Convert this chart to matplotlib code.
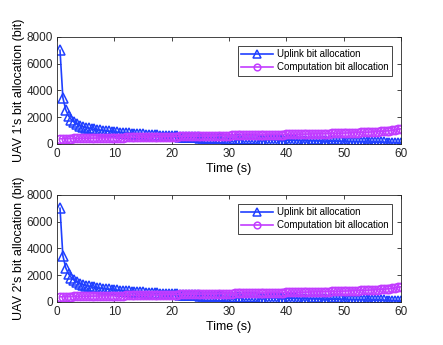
import matplotlib
matplotlib.use("Agg")
import matplotlib.pyplot as plt

plt.rcParams["font.family"] = ["Liberation Sans", "DejaVu Sans"]

# time slots (s)
time_s = [0.5 * k for k in range(1, 121)]

uplink_1 = [
    7000, 3450, 2550, 2080, 1800, 1610, 1470, 1370, 1290, 1220,
    1170, 1120, 1080, 1045, 1010, 985, 960, 935, 905, 880,
    860, 840, 820, 800, 783, 767, 751, 735, 721, 707,
    693, 680, 666, 652, 638, 625, 612, 600, 587, 575,
    564, 552, 541, 530, 520, 510, 500, 490, 481, 472,
    463, 455, 446, 437, 428, 420, 412, 405, 397, 390,
    383, 377, 370, 364, 357, 351, 344, 338, 331, 325,
    319, 314, 308, 303, 297, 292, 286, 281, 275, 270,
    265, 260, 255, 250, 245, 240, 235, 230, 225, 220,
    216, 211, 207, 202, 198, 193, 189, 184, 180, 175,
    171, 166, 162, 157, 153, 148, 144, 139, 135, 130,
    125, 120, 114, 108, 102, 95, 86, 75, 60, 40,
]
computation_1 = [
    380, 385, 390, 395, 400, 405, 410, 414, 418, 422,
    426, 430, 434, 438, 442, 446, 450, 454, 458, 462,
    466, 470, 474, 478, 482, 486, 490, 494, 498, 502,
    506, 510, 514, 518, 522, 526, 530, 534, 538, 542,
    546, 550, 554, 558, 562, 566, 570, 574, 578, 582,
    586, 590, 594, 598, 602, 606, 610, 614, 618, 622,
    626, 630, 634, 638, 642, 646, 650, 654, 658, 662,
    666, 670, 674, 678, 682, 686, 690, 694, 698, 702,
    706, 710, 714, 718, 722, 727, 732, 737, 742, 747,
    752, 757, 762, 768, 774, 780, 786, 792, 799, 806,
    813, 820, 828, 836, 844, 853, 862, 872, 882, 893,
    905, 918, 932, 948, 966, 987, 1012, 1043, 1082, 1130,
]
# UAV 2 looks practically the same as UAV 1
uplink_2 = list(uplink_1)
computation_2 = list(computation_1)

blue = "#2040ff"
purple = "#c23cff"

fig = plt.figure(figsize=(4.43, 3.45), dpi=100)
ax_top = fig.add_axes([0.129, 0.583, 0.776, 0.310])
ax_bot = fig.add_axes([0.129, 0.125, 0.776, 0.310])

for ax, up, comp, uav in [(ax_top, uplink_1, computation_1, 1),
                          (ax_bot, uplink_2, computation_2, 2)]:
    ax.plot(time_s, up, color=blue, marker="^", markersize=6.5, mfc="none",
            mew=1.1, lw=1.2, label="Uplink bit allocation")
    ax.plot(time_s, comp, color=purple, marker="o", markersize=6, mfc="none",
            mew=1.1, lw=1.2, label="Computation bit allocation")
    ax.set_xlim(0, 60)
    ax.set_ylim(0, 8000)
    ax.set_xticks([0, 10, 20, 30, 40, 50, 60])
    ax.set_yticks([0, 2000, 4000, 6000, 8000])
    ax.tick_params(direction="in", top=True, right=True, labelsize=8.5,
                   length=3, width=0.6, colors="#262626", pad=3)
    for sp in ax.spines.values():
        sp.set_color("#262626")
        sp.set_linewidth(0.6)
    ax.set_xlabel("Time (s)", fontsize=9, labelpad=2)
    ax.set_ylabel(f"UAV {uav}'s bit allocation (bit)", fontsize=9, labelpad=1)
    leg = ax.legend(loc="upper right", fontsize=7, fancybox=False,
                    edgecolor="#262626", framealpha=1, handlelength=3.3,
                    handletextpad=0.4, borderaxespad=0.9, borderpad=0.35,
                    labelspacing=0.35, markerscale=0.8)
    leg.get_frame().set_linewidth(0.6)

fig.savefig("out.png", dpi=100)
